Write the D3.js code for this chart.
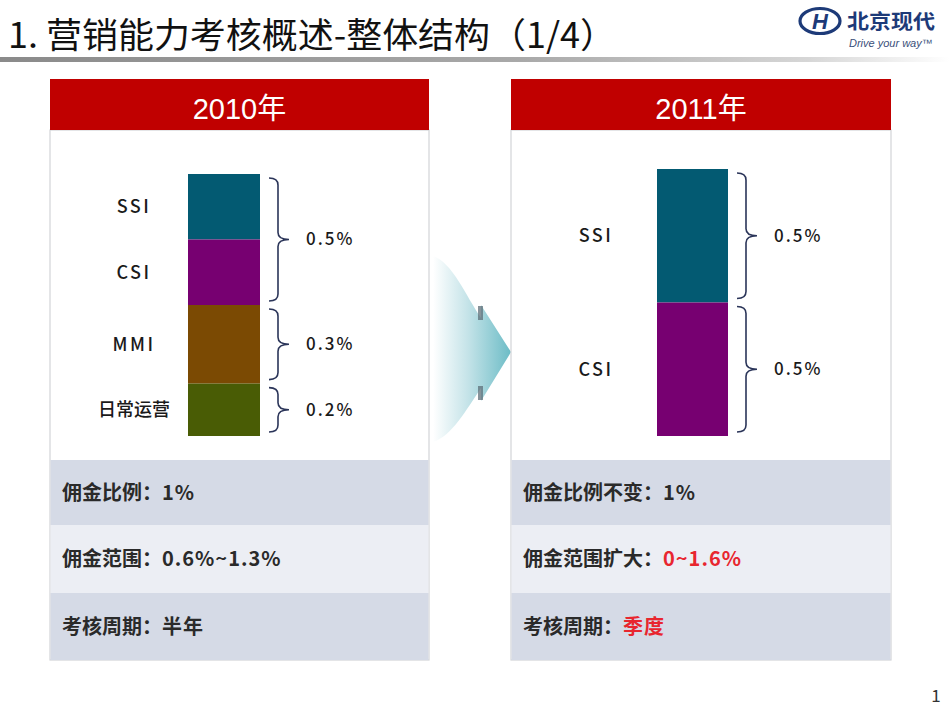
<!DOCTYPE html>
<html>
<head>
<meta charset="utf-8">
<script src="https://cdn.jsdelivr.net/npm/d3@7/dist/d3.min.js"></script>
<style>
  html, body { margin: 0; padding: 0; background: #fff; }
  svg { display: block; }
</style>
</head>
<body>
<svg id="chart" width="950" height="713" font-family="'Noto Sans CJK SC', 'Noto Sans', sans-serif"></svg>
<script>
// ---------------- data ----------------
const titleText = "1. 营销能力考核概述-整体结构（1/4）";
const years = ["2010年", "2011年"];

const cats2010 = ["SSI", "CSI", "MMI", "日常运营"];
const shares2010 = [0.25, 0.25, 0.3, 0.2];
const braceGroups2010 = [["SSI", "CSI"], ["MMI"], ["日常运营"]];
const braceLabels2010 = ["0.5%", "0.3%", "0.2%"];

const cats2011 = ["SSI", "CSI"];
const shares2011 = [0.5, 0.5];
const braceGroups2011 = [["SSI"], ["CSI"]];
const braceLabels2011 = ["0.5%", "0.5%"];

const rowLabels2010 = ["佣金比例：", "佣金范围：", "考核周期："];
const rowValues2010 = ["1%", "0.6%~1.3%", "半年"];
const rowLabels2011 = ["佣金比例不变：", "佣金范围扩大：", "考核周期："];
const rowValues2011 = ["1%", "0~1.6%", "季度"];
const changed2011 = [false, true, true];

const pageNumber = "1";

// ---------------- styles ----------------
const catColor = d3.scaleOrdinal()
  .domain(["SSI", "CSI", "MMI", "日常运营"])
  .range(["#035a72", "#770071", "#7b4a03", "#495c05"]);

const svg = d3.select("#chart");
const defs = svg.append("defs");

const sepGrad = defs.append("linearGradient").attr("id", "sepGrad")
  .attr("x1", "0%").attr("x2", "100%");
sepGrad.append("stop").attr("offset", "0%").attr("stop-color", "#8a8a8a");
sepGrad.append("stop").attr("offset", "55%").attr("stop-color", "#a9a9a9");
sepGrad.append("stop").attr("offset", "85%").attr("stop-color", "#d6d6d6");
sepGrad.append("stop").attr("offset", "100%").attr("stop-color", "#ffffff");

const arrowGrad = defs.append("linearGradient").attr("id", "arrowGrad")
  .attr("x1", "0%").attr("x2", "100%");
arrowGrad.append("stop").attr("offset", "0%").attr("stop-color", "#ffffff");
arrowGrad.append("stop").attr("offset", "45%").attr("stop-color", "#c4e3e8");
arrowGrad.append("stop").attr("offset", "100%").attr("stop-color", "#6cbcc6");

const latin = "'Liberation Sans', Arial, sans-serif";

// ---------------- title ----------------
svg.append("text")
  .attr("x", 8).attr("y", 48)
  .attr("font-size", 35)
  .attr("fill", "#111")
  .attr("textLength", 608).attr("lengthAdjust", "spacingAndGlyphs")
  .text(titleText);

svg.append("rect")
  .attr("x", 0).attr("y", 57).attr("width", 950).attr("height", 5)
  .attr("fill", "url(#sepGrad)");

// ---------------- logo ----------------
const logo = svg.append("g");
logo.append("ellipse").attr("cx", 820).attr("cy", 21).attr("rx", 20).attr("ry", 12.5)
  .attr("fill", "#fff").attr("stroke", "#1d3a78").attr("stroke-width", 3.2);
logo.append("text").attr("x", 820).attr("y", 29).attr("text-anchor", "middle")
  .style("font-family", latin)
  .attr("font-size", 22).attr("font-weight", 700).attr("font-style", "italic")
  .attr("fill", "#1d3a78").text("H");
logo.append("text").attr("x", 847).attr("y", 29)
  .attr("font-size", 20).attr("font-weight", 700).attr("fill", "#1d3a78")
  .attr("textLength", 88).attr("lengthAdjust", "spacingAndGlyphs")
  .text("北京现代");
logo.append("text").attr("x", 849).attr("y", 47)
  .style("font-family", latin)
  .attr("font-size", 11).attr("font-style", "italic")
  .attr("fill", "#3a4f7a").text("Drive your way™");

// ---------------- arrow ----------------
const arrowPath = d3.path();
arrowPath.moveTo(433, 256);
arrowPath.bezierCurveTo(452, 262, 466, 296, 481, 318);
arrowPath.lineTo(481, 305);
arrowPath.lineTo(511, 352);
arrowPath.lineTo(481, 401);
arrowPath.lineTo(481, 388);
arrowPath.bezierCurveTo(466, 410, 452, 436, 433, 442);
arrowPath.closePath();
svg.append("path").attr("d", arrowPath.toString()).attr("fill", "url(#arrowGrad)");
svg.append("rect").attr("x", 478).attr("y", 306).attr("width", 5).attr("height", 14)
  .attr("fill", "#5d6f78").attr("opacity", 0.75);
svg.append("rect").attr("x", 478).attr("y", 386).attr("width", 5).attr("height", 14)
  .attr("fill", "#5d6f78").attr("opacity", 0.75);

// ---------------- panels ----------------
const panels = [
  { year: years[0], cats: cats2010, shares: shares2010, groups: braceGroups2010, braceLabels: braceLabels2010,
    rowLabels: rowLabels2010, rowValues: rowValues2010, changed: [false, false, false],
    x: 50, w: 379, bar: [188, 260], yRange: [174, 436], labelX: 134 },
  { year: years[1], cats: cats2011, shares: shares2011, groups: braceGroups2011, braceLabels: braceLabels2011,
    rowLabels: rowLabels2011, rowValues: rowValues2011, changed: changed2011,
    x: 511, w: 380, bar: [657, 728], yRange: [169, 436], labelX: 596 }
];

const headerTop = 79, headerBottom = 130;
const rowBounds = [460, 525, 593, 660];
const rowFill = ["#d5dae6", "#eceef4", "#d5dae6"];

function bracePath(x0, ya, yb, w) {
  const mid = (ya + yb) / 2, xm = x0 + 9, r = 7;
  const p = d3.path();
  p.moveTo(x0, ya);
  p.quadraticCurveTo(xm, ya, xm, ya + r);
  p.lineTo(xm, mid - r);
  p.quadraticCurveTo(xm, mid, x0 + w, mid);
  p.quadraticCurveTo(xm, mid, xm, mid + r);
  p.lineTo(xm, yb - r);
  p.quadraticCurveTo(xm, yb, x0, yb);
  return p.toString();
}

panels.forEach(P => {
  const g = svg.append("g");
  g.append("rect").attr("x", P.x).attr("y", headerBottom).attr("width", P.w)
    .attr("height", rowBounds[3] - headerBottom)
    .attr("fill", "#fff").attr("stroke", "#d2d4d8").attr("stroke-width", 1.2);
  g.append("rect").attr("x", P.x).attr("y", headerTop).attr("width", P.w)
    .attr("height", headerBottom - headerTop).attr("fill", "#c00000");
  g.append("text").attr("x", P.x + P.w / 2).attr("y", 119)
    .attr("text-anchor", "middle").attr("font-size", 29)
    .style("font-family", "'Liberation Sans', 'Noto Sans CJK SC', sans-serif")
    .attr("fill", "#fff").text(P.year);

  const total = d3.sum(P.shares);
  const y = d3.scaleLinear().domain([0, total]).range(P.yRange);
  const x = d3.scaleBand().domain([P.year]).range(P.bar).padding(0);
  const cum = d3.cumsum(P.shares);
  const segs = P.cats.map((c, i) => ({ cat: c, y0: cum[i] - P.shares[i], y1: cum[i] }));

  g.selectAll("rect.seg").data(segs).join("rect")
    .attr("class", "seg")
    .attr("x", x(P.year)).attr("width", x.bandwidth())
    .attr("y", d => y(d.y0)).attr("height", d => y(d.y1) - y(d.y0))
    .attr("fill", d => catColor(d.cat));

  g.selectAll("text.cat").data(segs).join("text")
    .attr("class", "cat")
    .attr("x", P.labelX).attr("y", d => (y(d.y0) + y(d.y1)) / 2)
    .attr("dy", "0.35em").attr("text-anchor", "middle")
    .attr("font-size", 18).attr("font-weight", 500).attr("fill", "#1a1a1a")
    .attr("letter-spacing", d => /^[A-Z]+$/.test(d.cat) ? 2.5 : 0)
    .text(d => d.cat);

  const braceX = P.bar[1] + 9;
  P.groups.forEach((grp, gi) => {
    const first = segs.find(s => s.cat === grp[0]);
    const last = segs.find(s => s.cat === grp[grp.length - 1]);
    const ya = y(first.y0) + 4, yb = y(last.y1) - 4;
    g.append("path").attr("d", bracePath(braceX, ya, yb, 20))
      .attr("fill", "none").attr("stroke", "#2b3559").attr("stroke-width", 1.6);
    g.append("text").attr("x", braceX + 37).attr("y", (ya + yb) / 2)
      .attr("dy", "0.35em").attr("font-size", 17).attr("font-weight", 500).attr("fill", "#1a1a1a")
      .attr("letter-spacing", 2)
      .text(P.braceLabels[gi]);
  });

  P.rowLabels.forEach((lab, i) => {
    g.append("rect").attr("x", P.x + 0.6).attr("y", rowBounds[i])
      .attr("width", P.w - 1.2).attr("height", rowBounds[i + 1] - rowBounds[i])
      .attr("fill", rowFill[i]);
    const t = g.append("text").attr("x", P.x + 12)
      .attr("y", (rowBounds[i] + rowBounds[i + 1]) / 2)
      .attr("dy", "0.36em").attr("font-size", 20).attr("font-weight", 700)
      .attr("fill", "#2a2a2a");
    t.append("tspan").text(lab);
    t.append("tspan").attr("fill", P.changed[i] ? "#e8262f" : "#2a2a2a")
      .attr("letter-spacing", 1).text(P.rowValues[i]);
  });
});

svg.append("text").attr("x", 936).attr("y", 702).attr("text-anchor", "middle")
  .attr("font-size", 17).attr("fill", "#333").text(pageNumber);
</script>
</body>
</html>
